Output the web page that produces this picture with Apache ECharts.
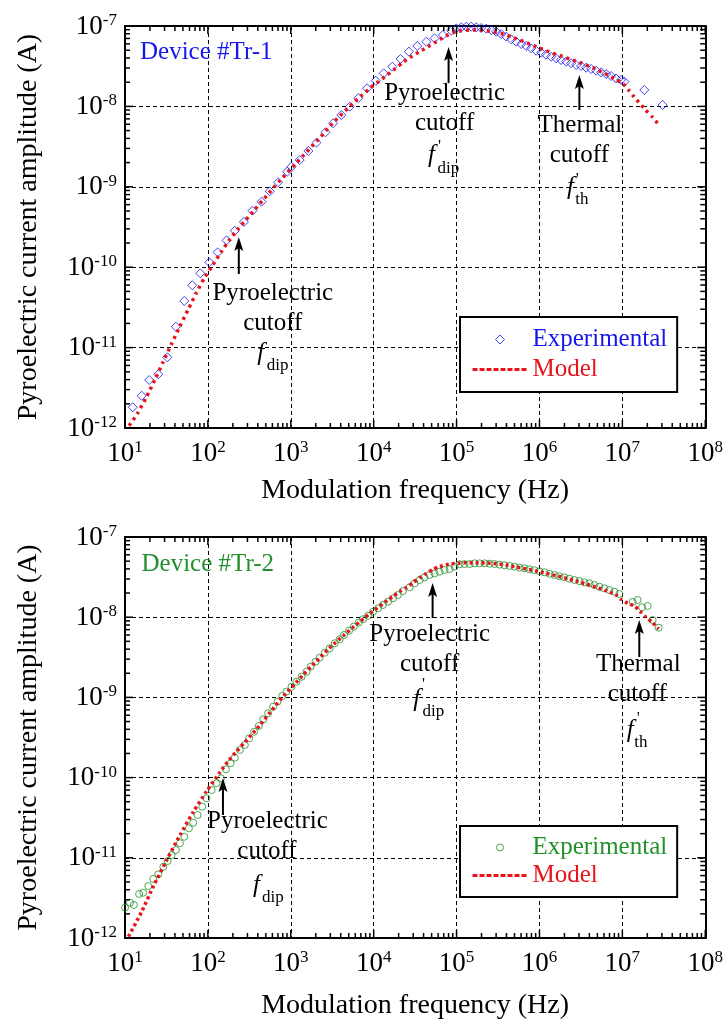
<!DOCTYPE html>
<html><head><meta charset="utf-8">
<script src="https://cdn.jsdelivr.net/npm/echarts@6/dist/echarts.min.js"></script>
<style>html,body{margin:0;padding:0;background:#fff}#c{width:726px;height:1023px}</style>
</head><body><div id="c"></div>
<script>
// ---------- data ----------
const xTickExponents = [1, 2, 3, 4, 5, 6, 7, 8];
const yTickExponents = [-12, -11, -10, -9, -8, -7];

const tr1ExpFreq = [12.4,15.9,19.6,25.2,32.4,41.1,51.9,64.7,80.9,104,131,168,211,272,345,444,558,703,904,1020,1280,1630,2040,2620,3240,4070,5140,6530,8320,10600,13200,16800,21100,26600,33600,43200,54300,68400,86300,99100,114000,131000,150000,173000,198000,228000,262000,301000,345000,397000,456000,524000,603000,692000,794000,912000,1.05e6,1.20e6,1.38e6,1.59e6,1.82e6,2.10e6,2.41e6,2.77e6,3.18e6,3.66e6,4.20e6,4.82e6,5.53e6,6.37e6,7.31e6,8.39e6,9.64e6,1.06e7,1.84e7,3.06e7];
const tr1ExpCurrent = [1.81e-12,2.52e-12,3.95e-12,4.66e-12,7.57e-12,1.82e-11,3.80e-11,5.96e-11,8.39e-11,1.15e-10,1.53e-10,2.16e-10,2.84e-10,3.65e-10,5.05e-10,6.53e-10,8.79e-10,1.14e-9,1.54e-9,1.78e-9,2.15e-9,2.79e-9,3.54e-9,4.76e-9,6.17e-9,7.82e-9,9.91e-9,1.27e-8,1.68e-8,2.09e-8,2.58e-8,3.12e-8,3.89e-8,4.80e-8,5.64e-8,6.38e-8,7.03e-8,7.73e-8,8.75e-8,9.35e-8,9.64e-8,9.79e-8,9.79e-8,9.64e-8,9.44e-8,9.27e-8,8.91e-8,8.49e-8,7.94e-8,7.36e-8,6.82e-8,6.38e-8,5.97e-8,5.64e-8,5.27e-8,4.93e-8,4.66e-8,4.40e-8,4.15e-8,3.96e-8,3.78e-8,3.60e-8,3.44e-8,3.27e-8,3.18e-8,3.03e-8,2.92e-8,2.78e-8,2.65e-8,2.53e-8,2.39e-8,2.23e-8,2.13e-8,2.03e-8,1.60e-8,1.04e-8];

const tr1ModelFreq = [11.2,14.1,18.2,22.9,28.8,36.3,45.7,57.5,72.4,91.2,115,145,182,229,288,363,457,575,724,912,1150,1450,1820,2290,2880,3630,4570,5750,7240,9120,11500,14500,18200,22500,28400,35800,45100,56900,71600,90200,114000,144000,181000,228000,287000,361000,456000,574000,723000,912000,1.15e6,1.45e6,1.82e6,2.30e6,2.89e6,3.66e6,4.60e6,5.79e6,7.31e6,8.51e6,1.00e7,1.20e7,1.38e7,1.91e7,2.29e7,2.72e7];
const tr1ModelCurrent = [1.07e-12,1.51e-12,2.45e-12,3.98e-12,6.61e-12,1.10e-11,1.82e-11,2.95e-11,4.79e-11,7.41e-11,1.07e-10,1.55e-10,2.19e-10,2.95e-10,3.89e-10,5.13e-10,6.76e-10,8.91e-10,1.17e-9,1.51e-9,1.95e-9,2.51e-9,3.24e-9,4.17e-9,5.50e-9,7.08e-9,8.91e-9,1.12e-8,1.38e-8,1.70e-8,2.04e-8,2.45e-8,2.95e-8,3.53e-8,4.16e-8,4.80e-8,5.53e-8,6.38e-8,7.36e-8,8.26e-8,8.75e-8,8.91e-8,8.91e-8,8.75e-8,8.41e-8,7.94e-8,7.36e-8,6.70e-8,6.10e-8,5.53e-8,5.02e-8,4.57e-8,4.24e-8,3.89e-8,3.60e-8,3.27e-8,2.98e-8,2.65e-8,2.34e-8,2.12e-8,1.95e-8,1.58e-8,1.32e-8,9.0e-9,7.4e-9,6.0e-9];

const tr2ExpFreq = [10.0,11.5,12.8,14.8,16.6,19.1,21.9,25.2,29.0,32.7,36.5,41.1,46.0,51.9,59.0,66.5,75.2,85.5,96.4,111,127,144,165,188,211,243,279,315,361,411,465,533,612,692,787,887,1020,1170,1350,1550,1740,1990,2230,2570,2950,3390,3890,4390,5040,5740,6590,7430,8530,9820,11300,12900,14900,17100,19600,22500,27200,31200,35800,41100,47300,54300,62400,71600,82400,94600,109000,125000,144000,165000,189000,217000,250000,287000,330000,378000,436000,500000,574000,659000,759000,871000,1.00e6,1.15e6,1.32e6,1.52e6,1.74e6,2.00e6,2.30e6,2.64e6,3.03e6,3.48e6,4.00e6,4.60e6,5.28e6,6.07e6,6.97e6,8.02e6,9.20e6,1.33e7,1.53e7,1.73e7,2.02e7,2.32e7,2.74e7];
const tr2ExpCurrent = [2.39e-12,2.75e-12,2.58e-12,3.54e-12,3.67e-12,4.45e-12,5.45e-12,6.22e-12,7.74e-12,9.12e-12,1.08e-11,1.25e-11,1.52e-11,1.83e-11,2.33e-11,2.74e-11,3.42e-11,4.34e-11,5.52e-11,7.00e-11,8.49e-11,9.79e-11,1.27e-10,1.51e-10,1.77e-10,2.21e-10,2.55e-10,3.09e-10,3.73e-10,4.40e-10,5.33e-10,6.34e-10,7.66e-10,8.83e-10,1.04e-9,1.18e-9,1.36e-9,1.57e-9,1.81e-9,2.09e-9,2.42e-9,2.79e-9,3.13e-9,3.61e-9,4.09e-9,4.73e-9,5.30e-9,6.00e-9,6.79e-9,7.62e-9,8.55e-9,9.42e-9,1.04e-8,1.17e-8,1.29e-8,1.42e-8,1.56e-8,1.72e-8,1.89e-8,2.12e-8,2.36e-8,2.65e-8,2.91e-8,3.14e-8,3.36e-8,3.52e-8,3.69e-8,3.88e-8,3.99e-8,4.27e-8,4.57e-8,4.59e-8,4.60e-8,4.70e-8,4.70e-8,4.70e-8,4.65e-8,4.60e-8,4.52e-8,4.44e-8,4.35e-8,4.27e-8,4.14e-8,4.07e-8,3.95e-8,3.85e-8,3.73e-8,3.63e-8,3.48e-8,3.36e-8,3.24e-8,3.14e-8,3.02e-8,2.91e-8,2.82e-8,2.72e-8,2.65e-8,2.52e-8,2.40e-8,2.29e-8,2.18e-8,2.08e-8,1.95e-8,1.55e-8,1.64e-8,1.33e-8,1.38e-8,9.23e-9,7.40e-9];

const tr2ModelFreq = [11.0,15.9,21.9,31.8,46.0,66.5,96.4,140,174,219,275,347,437,550,692,871,1100,1380,1740,2190,2750,3470,4370,5500,6920,8710,11000,13800,17400,20900,24800,29800,35800,43200,51900,62400,82400,104000,131000,173000,228000,301000,397000,524000,692000,912000,1.20e6,1.59e6,2.10e6,2.77e6,3.66e6,4.82e6,6.37e6,8.39e6,9.64e6,1.16e7,1.40e7,1.63e7,1.93e7,2.32e7,2.74e7];
const tr2ModelCurrent = [1.04e-12,2.13e-12,4.37e-12,9.33e-12,1.91e-11,3.72e-11,6.76e-11,1.17e-10,1.58e-10,2.09e-10,2.72e-10,3.55e-10,4.68e-10,6.31e-10,8.51e-10,1.12e-9,1.45e-9,1.86e-9,2.40e-9,3.05e-9,3.89e-9,4.84e-9,5.96e-9,7.33e-9,8.91e-9,1.08e-8,1.30e-8,1.55e-8,1.84e-8,2.11e-8,2.35e-8,2.69e-8,3.11e-8,3.52e-8,3.95e-8,4.27e-8,4.60e-8,4.70e-8,4.79e-8,4.79e-8,4.74e-8,4.65e-8,4.48e-8,4.23e-8,3.99e-8,3.77e-8,3.52e-8,3.29e-8,3.05e-8,2.82e-8,2.59e-8,2.36e-8,2.14e-8,1.89e-8,1.67e-8,1.49e-8,1.38e-8,1.19e-8,9.98e-9,8.55e-9,7.13e-9];

// ---------- styling ----------
const FONT = "'Liberation Serif','Times New Roman',serif";
const BLUE = '#1515f0';
const GREEN = '#22902a';
const RED = '#e8141c';

const zip = (a, b) => a.map((v, i) => [v, b[i]]);
const X_MIN = Math.pow(10, xTickExponents[0]), X_MAX = Math.pow(10, xTickExponents[xTickExponents.length - 1]);
const Y_MIN = Math.pow(10, yTickExponents[0]), Y_MAX = Math.pow(10, yTickExponents[yTickExponents.length - 1]);

const tickFmt = v => '{b|10}{s|' + Math.round(Math.log10(v)) + '}';
const rich = {
  b: { fontSize: 27, fontFamily: FONT, color: '#000', verticalAlign: 'bottom' },
  s: { fontSize: 17, fontFamily: FONT, color: '#000', verticalAlign: 'bottom', padding: [0, 0, 11, 0] }
};
const labelMap = { exp1: 'Experimental', model1: 'Model', exp2: 'Experimental', model2: 'Model' };

const grids = [
  { left: 125, top: 26, width: 581, height: 402 },
  { left: 125, top: 537, width: 581, height: 401 }
];
const xNameGap = [49, 54];

const xAxes = [], yAxes = [];
grids.forEach((g, gi) => {
  const frameLine = { show: true, onZero: false, lineStyle: { color: '#000', width: 2 } };
  const dashed = { show: true, lineStyle: { color: '#000', width: 1, type: [4, 3] } };
  const base = { type: 'log', logBase: 10, gridIndex: gi, axisLine: frameLine, axisTick: { show: false }, minorTick: { show: false }, minorSplitLine: { show: false } };
  xAxes.push(
    Object.assign({}, base, { min: X_MIN, max: X_MAX, position: 'bottom',
      axisLabel: { margin: 11, formatter: tickFmt, rich }, splitLine: dashed,
      name: 'Modulation frequency (Hz)', nameLocation: 'middle', nameGap: xNameGap[gi],
      nameTextStyle: { fontSize: 28, fontFamily: FONT, color: '#000' } }),
    Object.assign({}, base, { min: X_MIN, max: X_MAX, position: 'top', axisLabel: { show: false }, splitLine: { show: false } })
  );
  yAxes.push(
    Object.assign({}, base, { min: Y_MIN, max: Y_MAX, position: 'left',
      axisLabel: { margin: 8, formatter: tickFmt, rich }, splitLine: dashed,
      name: 'Pyroelectric current amplitude (A)', nameLocation: 'middle', nameRotate: 90, nameGap: 82,
      nameTextStyle: { fontSize: 28, fontFamily: FONT, color: '#000' } }),
    Object.assign({}, base, { min: Y_MIN, max: Y_MAX, position: 'right', axisLabel: { show: false }, splitLine: { show: false } })
  );
});

// tick marks (major at decades, minor at 2..9 x decade), inside the frame on all four sides
const L_MAJ = 8, L_MIN = 5;
const tickItems = [];
const decadeTicks = exps => {
  const out = [];
  exps.forEach((e, i) => {
    out.push([Math.pow(10, e), L_MAJ]);
    if (i < exps.length - 1) for (let k = 2; k <= 9; k++) out.push([k * Math.pow(10, e), L_MIN]);
  });
  return out;
};
decadeTicks(xTickExponents).forEach(([v, L]) => { tickItems.push([v, Y_MIN, 0, -L]); tickItems.push([v, Y_MAX, 0, L]); });
decadeTicks(yTickExponents).forEach(([v, L]) => { tickItems.push([X_MIN, v, L, 0]); tickItems.push([X_MAX, v, -L, 0]); });

const tickSeries = axisIdx => ({
  type: 'custom', xAxisIndex: axisIdx, yAxisIndex: axisIdx, silent: true, z: 6, clip: false, data: tickItems,
  renderItem: (params, api) => {
    const p = api.coord([api.value(0), api.value(1)]);
    return { type: 'line', shape: { x1: p[0], y1: p[1], x2: p[0] + api.value(2), y2: p[1] + api.value(3) },
             style: { stroke: '#000', lineWidth: 1.5 } };
  }
});

// ---------- annotations (anchored in data space) ----------
const annotations = [
  { grid: 0, f: 236, tip: 2.37e-10, tail: 8.23e-11, lines: [['Pyroelectric', 34, 19.5], ['cutoff', 34, 49.5]], fx: 22, fy: 79, sub: 'dip', sx: 28, sy: 92, prime: null },
  { grid: 0, f: 80100, tip: 5.48e-8, tail: 1.95e-8, lines: [['Pyroelectric', -4, 10], ['cutoff', -4, 40]], fx: -17, fy: 72, sub: 'dip', sx: -11, sy: 85, prime: [-9, 63] },
  { grid: 0, f: 3.03e6, tip: 2.46e-8, tail: 9.02e-9, lines: [['Thermal', 0.5, 15], ['cutoff', 0, 45]], fx: -9, fy: 77, sub: 'th', sx: -4, sy: 90, prime: [-2, 70] },
  { grid: 1, f: 152, tip: 9.89e-11, tail: 3.42e-11, lines: [['Pyroelectric', 44.5, 6], ['cutoff', 44, 36]], fx: 33.5, fy: 70, sub: 'dip', sx: 39, sy: 83, prime: null },
  { grid: 1, f: 51400, tip: 2.67e-8, tail: 9.77e-9, lines: [['Pyroelectric', -3, 16], ['cutoff', -3, 46]], fx: -16, fy: 81, sub: 'dip', sx: -10, sy: 94, prime: [-9, 67] },
  { grid: 1, f: 1.60e7, tip: 9.23e-9, tail: 3.19e-9, lines: [['Thermal', -1, 7], ['cutoff', -2, 37]], fx: -9, fy: 73, sub: 'th', sx: -5, sy: 86, prime: [-1, 62] }
];

const tEl = (x, y, text, font, align) => ({
  type: 'text', x, y,
  style: { text, fill: '#000', font, textAlign: align, align, textVerticalAlign: 'middle', verticalAlign: 'middle' }
});
const annotationSeries = gi => ({
  type: 'custom', xAxisIndex: gi * 2, yAxisIndex: gi * 2, silent: true, z: 10, clip: false,
  data: annotations.map((a, i) => [a.f, a.tail, i]).filter(d => annotations[d[2]].grid === gi),
  renderItem: (params, api) => {
    const a = annotations[api.value(2)];
    const tip = api.coord([a.f, a.tip]);
    const tail = api.coord([api.value(0), api.value(1)]);
    const x = tip[0];
    const children = [
      { type: 'line', shape: { x1: x, y1: tip[1] + 9, x2: x, y2: tail[1] }, style: { stroke: '#000', lineWidth: 2 } },
      { type: 'polygon', shape: { points: [[x, tip[1]], [x - 4.5, tip[1] + 14], [x, tip[1] + 11], [x + 4.5, tip[1] + 14]] }, style: { fill: '#000' } }
    ];
    a.lines.forEach(l => children.push(tEl(x + l[1], tail[1] + l[2], l[0], '25px ' + FONT, 'center')));
    children.push(tEl(x + a.fx, tail[1] + a.fy, 'f', 'italic 25px ' + FONT, 'center'));
    children.push(tEl(x + a.sx, tail[1] + a.sy, a.sub, '17px ' + FONT, 'left'));
    if (a.prime) children.push(tEl(x + a.prime[0], tail[1] + a.prime[1], "'", '17px ' + FONT, 'center'));
    return { type: 'group', children };
  }
});

const hollow = c => ({ color: 'rgba(0,0,0,0)', borderColor: c, borderWidth: 1 });
const series = [
  { name: 'exp1', type: 'scatter', xAxisIndex: 0, yAxisIndex: 0, data: zip(tr1ExpFreq, tr1ExpCurrent),
    symbol: 'diamond', symbolSize: 9, itemStyle: hollow(BLUE), z: 3 },
  { name: 'model1', type: 'line', xAxisIndex: 0, yAxisIndex: 0, data: zip(tr1ModelFreq, tr1ModelCurrent),
    symbol: 'none', smooth: 0.2, itemStyle: { color: RED }, lineStyle: { color: RED, width: 3.5, type: [3, 4] }, z: 4 },
  { name: 'exp2', type: 'scatter', xAxisIndex: 2, yAxisIndex: 2, data: zip(tr2ExpFreq, tr2ExpCurrent),
    symbol: 'circle', symbolSize: 7, itemStyle: hollow(GREEN), z: 3 },
  { name: 'model2', type: 'line', xAxisIndex: 2, yAxisIndex: 2, data: zip(tr2ModelFreq, tr2ModelCurrent),
    symbol: 'none', smooth: 0.2, itemStyle: { color: RED }, lineStyle: { color: RED, width: 3.5, type: [3, 3] }, z: 4 },
  tickSeries(0), tickSeries(2),
  annotationSeries(0), annotationSeries(1)
];

// legend icons: small marker centred in a 55-wide slot
const diamondIcon = 'path://M0,0 M55,9 M27.5,0 L32,4.5 L27.5,9 L23,4.5 Z';
const circleIcon = 'path://M0,0 M55,7 M31,3.5 A3.5,3.5 0 1 1 24,3.5 A3.5,3.5 0 1 1 31,3.5 Z';
const mkLegend = (top, expName, modelName, color, icon, iconH, gap, pad) => ({
  orient: 'vertical', left: 460, top, itemWidth: 55, itemHeight: iconH, itemGap: gap,
  padding: pad, borderColor: '#000', borderWidth: 2, backgroundColor: '#fff', selectedMode: false,
  formatter: n => labelMap[n], textStyle: { fontSize: 25, fontFamily: FONT },
  data: [
    { name: expName, icon, itemStyle: hollow(color), textStyle: { color } },
    { name: modelName, itemStyle: { color: 'rgba(0,0,0,0)', borderWidth: 0, opacity: 0 },
      lineStyle: { color: RED, width: 3, type: [5, 2] }, textStyle: { color: RED } }
  ]
});

const deviceLabels = [
  { grid: 0, text: 'Device #Tr-1', color: BLUE, dx: 15, dy: 26 },
  { grid: 1, text: 'Device #Tr-2', color: GREEN, dx: 16.5, dy: 27 }
];
const graphics = deviceLabels.map(d => ({
  type: 'text', x: grids[d.grid].left + d.dx, y: grids[d.grid].top + d.dy, silent: true, z: 10,
  style: { text: d.text, fill: d.color, font: '25px ' + FONT, textAlign: 'left', textVerticalAlign: 'middle', verticalAlign: 'middle' }
}));

const chart = echarts.init(document.getElementById('c'), null, { renderer: 'canvas' });
chart.setOption({
  animation: false,
  backgroundColor: '#fff',
  grid: grids,
  xAxis: xAxes,
  yAxis: yAxes,
  legend: [
    mkLegend(317, 'exp1', 'model1', BLUE, diamondIcon, 9, 5, [10, 10, 10, 11]),
    mkLegend(826, 'exp2', 'model2', GREEN, circleIcon, 7, 3, [9, 10, 9, 11])
  ],
  graphic: graphics,
  series
});
</script>
</body></html>
